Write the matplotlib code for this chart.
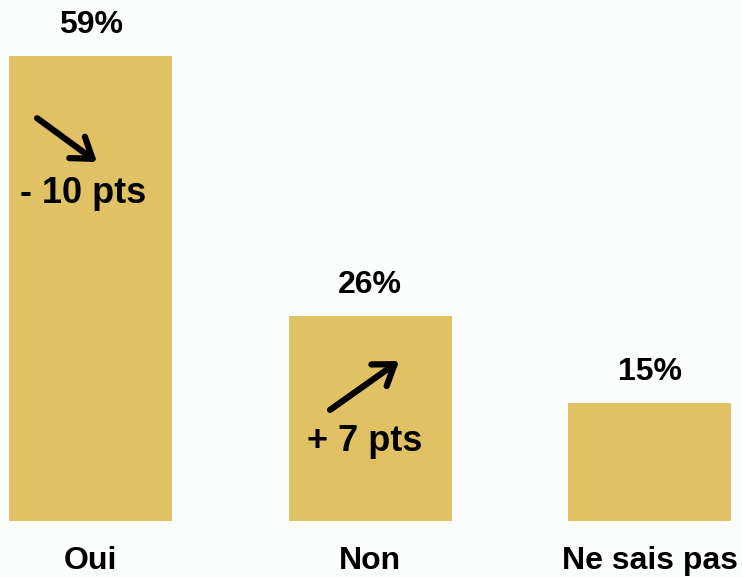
import matplotlib
matplotlib.use("Agg")
from matplotlib import pyplot as plt
import numpy as np

plt.rcParams['font.family'] = ['Liberation Sans', 'DejaVu Sans']
plt.rcParams['font.weight'] = 'bold'

########## data ##########
categories = ["Oui", "Non", "Ne sais pas"]
values = [59, 26, 15]
value_labels = ["59%", "26%", "15%"]
evolution = {0: "- 10 pts", 1: "+ 7 pts"}

bar_color = "#E0C264"
bg_color = "#FBFDFD"

fig = plt.figure(figsize=(7.42, 5.77), dpi=100, facecolor=bg_color)
ax = fig.add_axes([0.009, 0.097, 0.9794, 0.888])
ax.set_facecolor(bg_color)

x = np.arange(len(categories))
bars = ax.bar(x, values, width=0.583, color=bar_color)

ax.set_xlim(-0.3, 2.3)
ax.set_ylim(0, 65)

# percent labels above the bars
for xi, v, lab in zip(x, values, value_labels):
    ax.annotate(lab, (xi, v), xytext=(0, 22.3), textcoords="offset points",
                ha="center", va="center", fontsize=23, fontweight="bold")

# evolution arrows and texts
arrow_style = "->,head_length=0.55,head_width=0.38"
ax.annotate("", xy=(x[0] + 0.023, values[0] - 13.45),
            xytext=(x[0] - 0.191, values[0] - 7.9),
            arrowprops=dict(arrowstyle=arrow_style, lw=4.5, color="black",
                            mutation_scale=25, shrinkA=0, shrinkB=0))
ax.text(x[0] - 0.025, values[0] - 17.4, evolution[0], ha="center", va="center",
        fontsize=26, fontweight="bold")

ax.annotate("", xy=(x[1] + 0.104, values[1] - 5.7),
            xytext=(x[1] - 0.143, values[1] - 11.9),
            arrowprops=dict(arrowstyle=arrow_style, lw=4.5, color="black",
                            mutation_scale=25, shrinkA=0, shrinkB=0))
ax.text(x[1] - 0.018, values[1] - 15.85, evolution[1], ha="center", va="center",
        fontsize=26, fontweight="bold")

ax.set_xticks(x)
ax.set_xticklabels(categories, fontsize=23, fontweight="bold")
ax.tick_params(axis="x", length=0, pad=18)
ax.set_yticks([])
for s in ax.spines.values():
    s.set_visible(False)

fig.savefig("out.png", dpi=100, facecolor=bg_color)
